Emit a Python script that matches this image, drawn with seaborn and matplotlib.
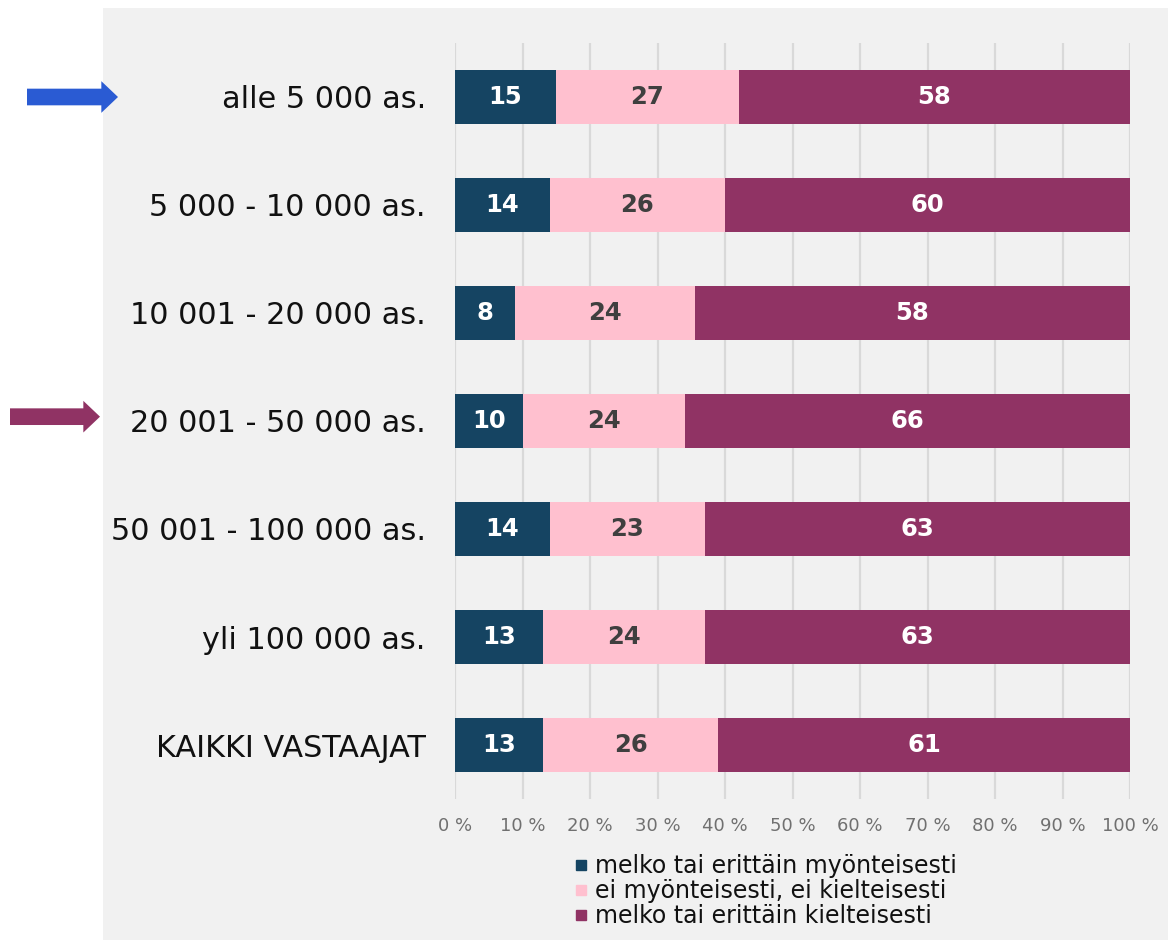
import matplotlib
matplotlib.use("Agg")
import matplotlib.pyplot as plt
from matplotlib.lines import Line2D
from matplotlib.transforms import blended_transform_factory
import seaborn as sns
import pandas as pd
import numpy as np

categories = ["alle 5 000 as.", "5 000 - 10 000 as.", "10 001 - 20 000 as.",
              "20 001 - 50 000 as.", "50 001 - 100 000 as.", "yli 100 000 as.",
              "KAIKKI VASTAAJAT"]
positive = [15, 14, 8, 10, 14, 13, 13]
neutral = [27, 26, 24, 24, 23, 24, 26]
negative = [58, 60, 58, 66, 63, 63, 61]
series_names = ["melko tai erittäin myönteisesti",
                "ei myönteisesti, ei kielteisesti",
                "melko tai erittäin kielteisesti"]
tick_values = [0, 10, 20, 30, 40, 50, 60, 70, 80, 90, 100]
tick_labels = [f"{v} %" for v in tick_values]

colors = ["#154462", "#FFC0CF", "#903364"]
text_colors = ["white", "#3F3F3F", "white"]

sns.set_theme(style="white")
plt.rcParams["font.family"] = ["DejaVu Sans"]

df = pd.DataFrame({"cat": categories, "p": positive, "n": neutral, "k": negative})
tot = df[["p", "n", "k"]].sum(axis=1)
df["c1"] = df["p"] / tot * 100
df["c2"] = (df["p"] + df["n"]) / tot * 100
df["c3"] = (df["p"] + df["n"] + df["k"]) / tot * 100

W, H = 1168, 940
fig = plt.figure(figsize=(W / 100, H / 100), dpi=100)
fig.patch.set_facecolor("white")
bg = plt.Rectangle((103 / W, 0), 1 - 103 / W, 1 - 8 / H,
                   transform=fig.transFigure, facecolor="#F1F1F1",
                   edgecolor="none", zorder=-10)
fig.patches.append(bg)

ax = fig.add_axes([455 / W, 1 - 799 / H, 675 / W, 756 / H])
ax.set_facecolor("none")

for col, c in zip(["c3", "c2", "c1"], colors[::-1]):
    sns.barplot(data=df, x=col, y="cat", orient="h", color=c, width=0.5,
                saturation=1, ax=ax, zorder=3, linewidth=0)

ax.set_xlim(0, 100)
ax.set_ylim(6.5, -0.5)
ax.set_xticks(tick_values)
ax.set_xticklabels(tick_labels, color="#707070", fontsize=13)
ax.tick_params(axis="x", length=0, pad=13)
ax.tick_params(axis="y", length=0, pad=21)
ax.set_yticks(range(len(categories)))
ax.set_yticklabels(categories, fontsize=21.8, color="#111111")
ax.set_xlabel("")
ax.set_ylabel("")
for s in ax.spines.values():
    s.set_visible(False)
ax.grid(axis="x", color="#D9D9D9", linewidth=1.6, zorder=0)
ax.set_axisbelow(True)

# value labels
starts = [np.zeros(len(df)), df["c1"].values, df["c2"].values]
ends = [df["c1"].values, df["c2"].values, df["c3"].values]
vals = [positive, neutral, negative]
for j in range(3):
    for i in range(len(df)):
        xc = (starts[j][i] + ends[j][i]) / 2
        ax.text(xc, i, str(vals[j][i]), ha="center", va="center",
                color=text_colors[j], fontsize=17.5, fontweight="heavy", zorder=5)

# arrows
tr = blended_transform_factory(fig.transFigure, ax.transData)
for yi, dy, col, x0, x1 in [(0, 0.0, "#2A5BD3", 27, 118), (3, -0.04, "#903364", 10, 100)]:
    ax.annotate("", xy=(x1 / W, yi + dy), xycoords=tr,
                xytext=(x0 / W, yi + dy), textcoords=tr,
                arrowprops=dict(arrowstyle="simple,head_length=1.0,head_width=1.9,tail_width=1.0",
                                color=col, shrinkA=0, shrinkB=0, lw=0),
                annotation_clip=False)

handles = [Line2D([], [], marker="s", linestyle="none", markersize=7,
                  markerfacecolor=c, markeredgecolor=c) for c in colors]
fig.legend(handles, series_names, loc="upper left",
           bbox_to_anchor=(560 / W, 1 - 842 / H), frameon=False,
           fontsize=17, handletextpad=0.2, labelspacing=0.05,
           borderpad=0, handlelength=0.8, labelcolor="#111111")

fig.savefig("out.png", dpi=100)
